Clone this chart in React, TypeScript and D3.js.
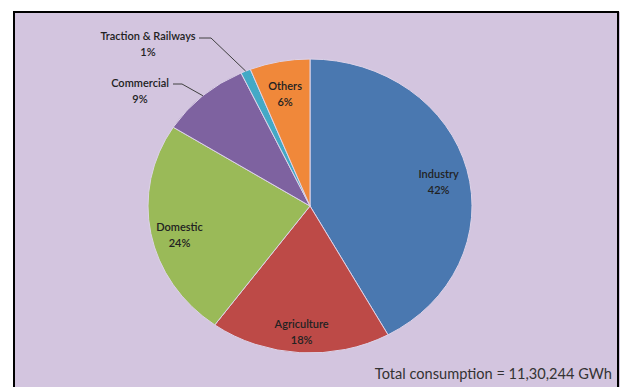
import React from "react";
import * as d3 from "d3";

const categories = ["Industry", "Agriculture", "Domestic", "Commercial", "Traction & Railways", "Others"];
const shares = [42, 18, 24, 9, 1, 6];
const colors = ["#4a78b0", "#bd4a47", "#9aba58", "#7e62a0", "#43a9c6", "#f0883a"];
const outsideLabels = ["Commercial", "Traction & Railways"];
const totalNote = "Total consumption =  11,30,244 GWh";

const W = 620;
const H = 387;
const CX = 310;
const CY = 206;
const RY = 147;
const SX = 162 / 147;

// layout anchors for the outside labels (label text centre, line start, line elbow)
const outsidePos: Record<string, { x: number; y: number; sx: number; ex: number; ey: number }> = {
  "Commercial": { x: 140, y: 87, sx: 173, ex: 182, ey: 84 },
  "Traction & Railways": { x: 148, y: 40, sx: 199, ex: 211, ey: 38 },
};

export default function App() {
  const data = categories.map((c, i) => ({ name: c, value: shares[i], color: colors[i] }));
  const pie = d3.pie<any>().sort(null).value((d) => d.value).startAngle(0).endAngle(2 * Math.PI);
  const arcs = pie(data);
  const arc = d3.arc<any>().innerRadius(0).outerRadius(RY);
  const labelR = RY * 0.82;

  const toScreen = (angle: number, r: number) => ({
    x: CX + SX * r * Math.sin(angle),
    y: CY - r * Math.cos(angle),
  });

  return (
    <svg width={W} height={H} style={{ position: "absolute", left: 0, top: 0 }}>
      <rect x={0} y={0} width={W} height={H} fill="#ffffff" />
      <rect x={14} y={12} width={W - 14} height={H - 12} fill="#d3c5df" />
      <path d={`M14,${H} L14,12 L${W - 2},12 L${W - 2},${H}`} fill="none" stroke="#000" strokeWidth={2} />
      <g transform={`translate(${CX},${CY}) scale(${SX},1)`}>
        {arcs.map((a, i) => (
          <path key={i} d={arc(a) || ""} fill={a.data.color} stroke="#ddd3e8" strokeWidth={1} vectorEffect="non-scaling-stroke" />
        ))}
      </g>
      <g fontFamily="Lato, 'Open Sans', sans-serif" fontSize={11} fontWeight={600} fill="#222" textAnchor="middle">
        {arcs.map((a, i) => {
          const mid = (a.startAngle + a.endAngle) / 2;
          const name = a.data.name;
          if (outsideLabels.includes(name)) {
            const p = outsidePos[name];
            const edge = toScreen(mid, RY);
            return (
              <g key={i}>
                <path d={`M${p.sx},${p.ey} L${p.ex},${p.ey} L${edge.x},${edge.y}`} fill="none" stroke="#404040" strokeWidth={1} />
                <text x={p.x} y={p.y}>{name}</text>
                <text x={p.x} y={p.y + 16}>{`${a.data.value}%`}</text>
              </g>
            );
          }
          const c = toScreen(mid, labelR);
          return (
            <g key={i}>
              <text x={c.x} y={c.y + 2}>{name}</text>
              <text x={c.x} y={c.y + 18}>{`${a.data.value}%`}</text>
            </g>
          );
        })}
      </g>
      <text x={612} y={379} textAnchor="end" fontFamily="Lato, 'Open Sans', sans-serif" fontSize={14.6} fill="#333">
        {totalNote}
      </text>
    </svg>
  );
}
